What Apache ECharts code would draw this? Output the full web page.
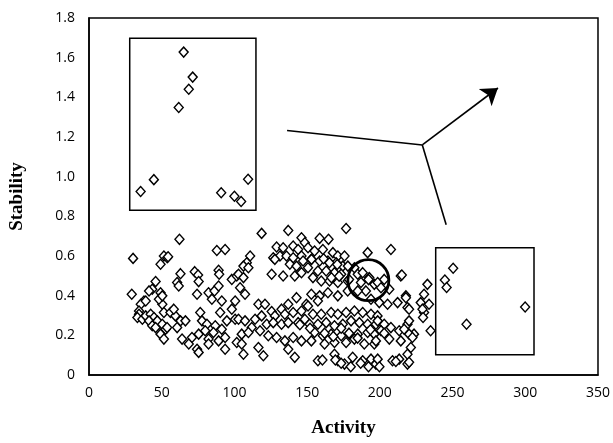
<!DOCTYPE html>
<html>
<head>
<meta charset="utf-8">
<script src="https://cdn.jsdelivr.net/npm/echarts@6/dist/echarts.min.js"></script>
<style>html,body{margin:0;padding:0;background:#fff}#c{width:613px;height:443px}</style>
</head>
<body>
<div id="c"></div>
<script>
// Axis ticks
const xTicks = [0, 50, 100, 150, 200, 250, 300, 350];
const yTicks = [0, 0.2, 0.4, 0.6, 0.8, 1.0, 1.2, 1.4, 1.6, 1.8];

// Main cloud of points [activity, stability]
const mainPoints = [
[30.3,0.588],[51.5,0.6],[53.8,0.591],[49.2,0.558],[29.4,0.407],[45.8,0.471],[43.5,0.432],[41.3,0.424],[49.2,0.415],
[37.8,0.373],[35.6,0.357],[39,0.373],[34.4,0.323],[34.4,0.306],[33.3,0.29],[36.7,0.281],[39,0.298],[42.4,0.306],
[44.7,0.29],[47,0.273],[41.3,0.273],[43.5,0.248],[45.8,0.239],[50.4,0.256],[52.7,0.231],[49.2,0.206],[51.5,0.181],
[50.4,0.357],[51.5,0.315],[48.1,0.382],[50.4,0.399],
[62.2,0.684],[87.9,0.628],[93.6,0.633],[54.4,0.596],[62.9,0.511],[72.7,0.521],[75,0.504],[75.4,0.471],[89.1,0.528],
[89.5,0.508],[98.2,0.482],[101.6,0.499],[60.6,0.466],[61.7,0.449],[74.3,0.407],[82.2,0.415],[86.3,0.424],[89.1,0.449],
[84.5,0.382],[91.3,0.373],[100.5,0.373],[76.5,0.315],[90.2,0.315],[98.2,0.332],[56,0.315],[59.4,0.298],[58.3,0.332],
[62.9,0.273],[66.3,0.273],[60.6,0.239],[53.7,0.239],[77.7,0.273],[81.1,0.256],[86.8,0.248],[94.8,0.273],[100.5,0.281],
[79.9,0.223],[85.6,0.214],[91.3,0.231],[64,0.181],[70.8,0.189],[75.4,0.206],[82.2,0.181],[89.1,0.172],[93.6,0.189],
[101.6,0.164],[68.6,0.156],[74.3,0.13],[75.4,0.114],[93.6,0.13],[82.2,0.156],
[118.7,0.714],[137,0.729],[146.1,0.692],[148.4,0.667],[129,0.645],[133.5,0.642],[140.4,0.65],[143.8,0.633],[126.7,0.591],
[131.3,0.6],[135.8,0.6],[140.4,0.591],[146.1,0.6],[127.8,0.583],[138.1,0.558],[142.7,0.549],[147.2,0.575],[125.6,0.508],
[133.5,0.499],[141.5,0.499],[146.1,0.516],[110.8,0.6],[108.5,0.566],[106.2,0.549],[109.6,0.541],[102.8,0.508],[106.2,0.491],
[103.9,0.44],[107.3,0.407],[116.5,0.357],[121,0.357],[142.7,0.39],[137,0.357],[132.4,0.332],[125.6,0.32],[127.8,0.298],
[134.7,0.306],[140.4,0.315],[146.1,0.323],[149.5,0.357],[102.8,0.281],[107.3,0.273],[114.2,0.281],[118.7,0.298],[111.9,0.239],
[117.6,0.223],[122.2,0.256],[126.7,0.264],[132.4,0.256],[137,0.264],[143.8,0.264],[148.4,0.281],[105,0.206],[109.6,0.214],
[123.3,0.198],[129,0.189],[134.7,0.172],[140.4,0.189],[146.1,0.172],[105,0.156],[106.2,0.105],[116.5,0.139],[119.9,0.097],
[137,0.13],[141.5,0.089],
[176.8,0.739],[158.6,0.689],[164.7,0.684],[150.6,0.642],[155.1,0.625],[160.8,0.633],[167.7,0.617],[171.1,0.6],[175.7,0.6],
[191.6,0.617],[152.9,0.583],[158.6,0.575],[164.3,0.575],[170,0.566],[174.5,0.549],[150.6,0.541],[157.4,0.524],[163.1,0.524],
[168.8,0.516],[173.4,0.508],[154,0.491],[159.7,0.474],[165.4,0.474],[171.1,0.466],[177.9,0.474],[152.9,0.407],[158.6,0.399],
[164.3,0.415],[171.1,0.399],[177.9,0.424],[157.4,0.373],[150.6,0.348],[154,0.306],[159.7,0.306],[166.5,0.315],[171.1,0.306],
[176.8,0.315],[182.5,0.323],[188.2,0.315],[193.9,0.306],[198.4,0.298],[151.7,0.256],[157.4,0.256],[163.1,0.264],[168.8,0.248],
[174.5,0.256],[180.2,0.273],[185.9,0.264],[191.6,0.256],[197.3,0.256],[155.1,0.214],[160.8,0.198],[166.5,0.206],[173.4,0.198],
[179.1,0.206],[184.8,0.206],[191.6,0.214],[196.2,0.206],[152.9,0.172],[162,0.156],[168.8,0.164],[176.8,0.164],[182.5,0.181],
[189.3,0.156],[196.2,0.156],[157.4,0.072],[168.8,0.105],[171.1,0.072],[175.7,0.055],[181.3,0.089],[188.2,0.072],[193.9,0.08],
[197.3,0.055],[182.5,0.541],[184.8,0.508],[188.2,0.516],[192.7,0.491],[187,0.466],[196.2,0.457],[190.4,0.424],[184.8,0.424],
[193.9,0.382],
[207.6,0.633],[214.4,0.499],[198.5,0.466],[203,0.482],[200.8,0.44],[206.5,0.432],[199.6,0.365],[205.3,0.357],[212.2,0.365],
[217.9,0.399],[219,0.34],[198.5,0.273],[203,0.256],[207.6,0.239],[213.3,0.223],[219,0.256],[222.4,0.198],[200.8,0.223],
[206.5,0.181],[214.4,0.172],[221.3,0.139],[220.1,0.273],[197.3,0.172],[198.5,0.08],[208.7,0.072],[213.3,0.08],[219,0.055],
[232.7,0.457],[230.4,0.407],[228.1,0.365],[233.8,0.357],[230.4,0.315],[234.9,0.223],[223.5,0.206],[229.3,0.332],[229.7,0.29],
[215.1,0.504],[217.9,0.39],[220.1,0.332],[216.7,0.231],[220.1,0.206],[222.4,0.189],[219,0.105],[220.1,0.064],
[153,0.583],[161.3,0.586],[165.3,0.566],[170.7,0.557],[178,0.549],[166.7,0.49],[172,0.498],[178.8,0.481],[192.2,0.481],
[145,0.253],[152,0.236],[162,0.211],[168,0.194],[173.4,0.236],[178.8,0.211],[184.7,0.186],[193.5,0.228],[203,0.211],
[160.5,0.076],[169.4,0.076],[173.4,0.059],[180,0.042],[186.8,0.059],[192.2,0.042],[199.7,0.042],[211,0.068]
];

// Inset (upper-left box) points
const inset1Points = [
[65.1,1.628],[71.3,1.502],[68.6,1.441],[61.7,1.349],[44.6,0.985],[35.5,0.925],[90.9,0.919],[100.0,0.901],[104.6,0.875],[109.4,0.987]
];
// Inset (lower-right box) points
const inset2Points = [
[250.4,0.538],[244.7,0.479],[245.9,0.441],[259.6,0.256],[299.9,0.343]
];
// Inset boxes [[x1,y1],[x2,y2]]
const inset1Box = [[28.0,0.831],[114.8,1.698]];
const inset2Box = [[238.4,0.102],[306.0,0.642]];
// Highlight circle centre
const circleCentre = [192.1,0.478];
// Branch lines
const branchJunction = [229.2,1.160];
const branchLeft = [136.2,1.233];
const branchDown = [245.6,0.758];
const branchArrowTip = [281.2,1.447];

const chart = echarts.init(document.getElementById('c'));
const diamond = {
  type: 'scatter', symbol: 'diamond', symbolSize: [9, 10],
  itemStyle: { color: '#fff', borderColor: '#000', borderWidth: 1.4, opacity: 1 },
  silent: true, animation: false
};
chart.setOption({
  animation: false,
  grid: { left: 88, right: 13, top: 18, bottom: 67, show: true, borderColor: '#000', borderWidth: 1.5 },
  xAxis: {
    type: 'value', min: 0, max: 350, interval: 50,
    name: 'Activity', nameLocation: 'middle', nameGap: 44,
    nameTextStyle: { fontFamily: 'Liberation Serif', fontWeight: 'bold', fontSize: 19, color: '#000' },
    axisLine: { show: true, lineStyle: { color: '#000', width: 1.5 } },
    axisTick: { show: false }, splitLine: { show: false },
    axisLabel: { margin: 11, fontFamily: 'Open Sans', fontSize: 14, color: '#000' }
  },
  yAxis: {
    type: 'value', min: 0, max: 1.8, interval: 0.2,
    name: 'Stability', nameLocation: 'middle', nameGap: 62,
    nameTextStyle: { fontFamily: 'Liberation Serif', fontWeight: 'bold', fontSize: 19, color: '#000' },
    axisLine: { show: true, lineStyle: { color: '#000', width: 1.5 } },
    axisTick: { show: false }, splitLine: { show: false },
    axisLabel: { margin: 14, fontFamily: 'Open Sans', fontSize: 14, color: '#000',
      formatter: v => v === 0 ? '0' : v.toFixed(1) }
  },
  series: [
    Object.assign({}, diamond, { name: 'main', data: mainPoints }),
    Object.assign({}, diamond, { name: 'inset1', data: inset1Points,
      markArea: { silent: true, itemStyle: { color: 'rgba(0,0,0,0)', borderColor: '#000', borderWidth: 1.5 },
        data: [[{ coord: inset1Box[0] }, { coord: inset1Box[1] }]] } }),
    Object.assign({}, diamond, { name: 'inset2', data: inset2Points,
      markArea: { silent: true, itemStyle: { color: 'rgba(0,0,0,0)', borderColor: '#000', borderWidth: 1.5 },
        data: [[{ coord: inset2Box[0] }, { coord: inset2Box[1] }]] } }),
    { type: 'scatter', name: 'circle', symbol: 'circle', symbolSize: 41, data: [circleCentre], silent: true, z: 5,
      itemStyle: { color: 'rgba(0,0,0,0)', borderColor: '#000', borderWidth: 2.8, opacity: 1 } },
    { type: 'lines', coordinateSystem: 'cartesian2d', silent: true,
      lineStyle: { color: '#000', width: 1.6, opacity: 1, curveness: 0 },
      symbol: ['none', 'none'],
      data: [
        { coords: [branchLeft, branchJunction] },
        { coords: [branchJunction, branchDown] }
      ] },
    { type: 'lines', coordinateSystem: 'cartesian2d', silent: true,
      lineStyle: { color: '#000', width: 1.6, opacity: 1, curveness: 0 },
      symbol: ['none', 'arrow'], symbolSize: 16,
      data: [ { coords: [branchJunction, branchArrowTip] } ] }
  ]
});
</script>
</body>
</html>
